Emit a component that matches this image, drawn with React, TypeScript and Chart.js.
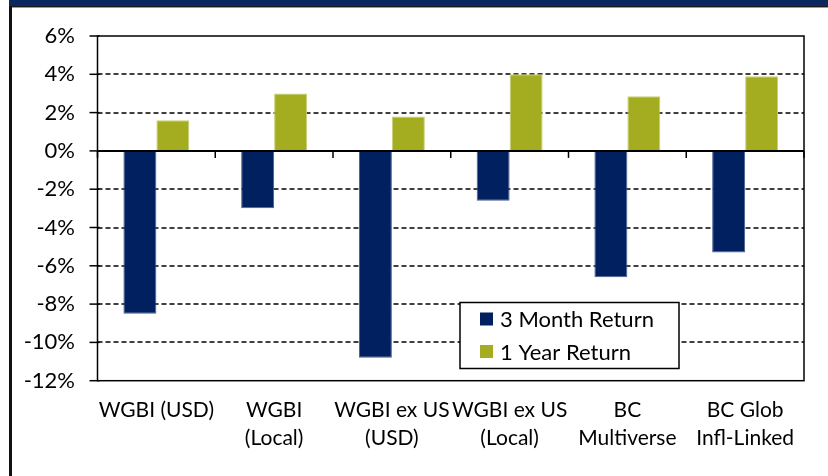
import React, { useEffect, useRef } from 'react';
import { Chart, registerables } from 'chart.js';

Chart.register(...registerables);

const categories: string[][] = [
  ['WGBI (USD)'],
  ['WGBI', '(Local)'],
  ['WGBI ex US', '(USD)'],
  ['WGBI ex US', '(Local)'],
  ['BC', 'Multiverse'],
  ['BC Glob', 'Infl-Linked'],
];
const threeMonthReturn = [-8.5, -3.0, -10.8, -2.6, -6.6, -5.3];
const oneYearReturn = [1.6, 3.0, 1.8, 4.0, 2.85, 3.9];
const seriesNames = ['3 Month Return', '1 Year Return'];
const yMin = -12;
const yMax = 6;
const yStep = 2;

const NAVY = '#002060';
const GREEN = '#A3AD1F';
const FONT = 'Lato, "Open Sans", sans-serif';

const framePlugin = {
  id: 'frame',
  beforeDatasetsDraw(chart: any) {
    const { ctx, chartArea: a, scales } = chart;
    const y = scales.y;
    ctx.save();
    ctx.strokeStyle = '#000';
    ctx.lineWidth = 1.4;
    ctx.setLineDash([5, 3]);
    y.ticks.forEach((t: any) => {
      if (t.value === 0 || t.value === yMin || t.value === yMax) return;
      const py = Math.round(y.getPixelForValue(t.value));
      ctx.beginPath();
      ctx.moveTo(a.left, py);
      ctx.lineTo(a.right, py);
      ctx.stroke();
    });
    ctx.restore();
  },
  afterDatasetsDraw(chart: any) {
    const { ctx, chartArea: a, scales } = chart;
    const y = scales.y;
    const x = scales.x;
    ctx.save();
    ctx.strokeStyle = '#000';
    ctx.setLineDash([]);
    ctx.lineWidth = 1.5;
    ctx.strokeRect(a.left, a.top, a.right - a.left, a.bottom - a.top);
    const zy = y.getPixelForValue(0);
    ctx.lineWidth = 2;
    ctx.beginPath();
    ctx.moveTo(a.left, zy);
    ctx.lineTo(a.right, zy);
    ctx.stroke();
    ctx.lineWidth = 1.5;
    y.ticks.forEach((t: any) => {
      const py = y.getPixelForValue(t.value);
      ctx.beginPath();
      ctx.moveTo(a.left - 8, py);
      ctx.lineTo(a.left + 2, py);
      ctx.stroke();
    });
    const step = x.getPixelForValue(1) - x.getPixelForValue(0);
    for (let i = 0; i <= categories.length; i++) {
      const px = x.getPixelForValue(0) - step / 2 + i * step;
      ctx.beginPath();
      ctx.moveTo(px, zy);
      ctx.lineTo(px, zy + 7);
      ctx.stroke();
    }
    const bx = 460, by = 302.5, bw = 219, bh = 66;
    ctx.fillStyle = '#fff';
    ctx.fillRect(bx, by, bw, bh);
    ctx.lineWidth = 1.5;
    ctx.strokeRect(bx, by, bw, bh);
    ctx.font = `22px ${FONT}`;
    ctx.textBaseline = 'middle';
    ctx.textAlign = 'left';
    chart.data.datasets.forEach((ds: any, i: number) => {
      const cy = by + 16.5 + i * 32.5;
      ctx.fillStyle = ds.backgroundColor;
      ctx.fillRect(bx + 20, cy - 6.5, 13, 13);
      ctx.fillStyle = '#000';
      ctx.fillText(ds.label, bx + 40, cy + 1);
    });
    ctx.restore();
  },
};

export default function App() {
  const ref = useRef<HTMLCanvasElement | null>(null);
  useEffect(() => {
    if (!ref.current) return;
    const chart = new Chart(ref.current, {
      type: 'bar',
      data: {
        labels: categories,
        datasets: [
          {
            label: seriesNames[0],
            data: threeMonthReturn,
            backgroundColor: NAVY,
            borderColor: '#4a5f8f',
            borderWidth: 1,
            categoryPercentage: 0.56,
            barPercentage: 1.0,
          },
          {
            label: seriesNames[1],
            data: oneYearReturn,
            backgroundColor: GREEN,
            borderColor: '#c8cf78',
            borderWidth: 1,
            categoryPercentage: 0.56,
            barPercentage: 1.0,
          },
        ],
      },
      options: {
        responsive: false,
        animation: false,
        devicePixelRatio: 1,
        layout: { padding: { top: 36, right: 24, left: 0, bottom: 0 } },
        plugins: { legend: { display: false }, tooltip: { enabled: false } },
        scales: {
          x: {
            grid: { display: false, drawTicks: false },
            border: { display: false },
            ticks: {
              color: '#000',
              font: { family: FONT, size: 21, lineHeight: '28px' as any },
              padding: 16,
              autoSkip: false,
              maxRotation: 0,
              minRotation: 0,
            },
            afterFit(scale: any) {
              scale.height = 95.3;
            },
          },
          y: {
            min: yMin,
            max: yMax,
            grid: { display: false, drawTicks: false },
            border: { display: false },
            ticks: {
              stepSize: yStep,
              color: '#000',
              font: { family: FONT, size: 22 },
              padding: 22.5,
              callback: (v: any) => `${v}%`,
            },
            afterFit(scale: any) {
              scale.width = 97.5;
            },
          },
        },
      },
      plugins: [framePlugin],
    });
    return () => chart.destroy();
  }, []);

  return (
    <div style={{ position: 'fixed', left: 0, top: 0, width: 828, height: 476, background: '#fff', overflow: 'hidden' }}>
      <div style={{ position: 'absolute', left: 9, top: 0, right: 0, height: 6, background: '#0c2660' }} />
      <div style={{ position: 'absolute', left: 9, top: 6, right: 0, height: 1, background: '#1a1a1a' }} />
      <div style={{ position: 'absolute', left: 9, top: 7, right: 0, height: 1, background: '#9a9a9a' }} />
      <div style={{ position: 'absolute', left: 9, top: 6, width: 3, bottom: 0, background: '#111' }} />
      <canvas ref={ref} width={828} height={476} style={{ position: 'absolute', left: 0, top: 0, width: 828, height: 476 }} />
    </div>
  );
}
